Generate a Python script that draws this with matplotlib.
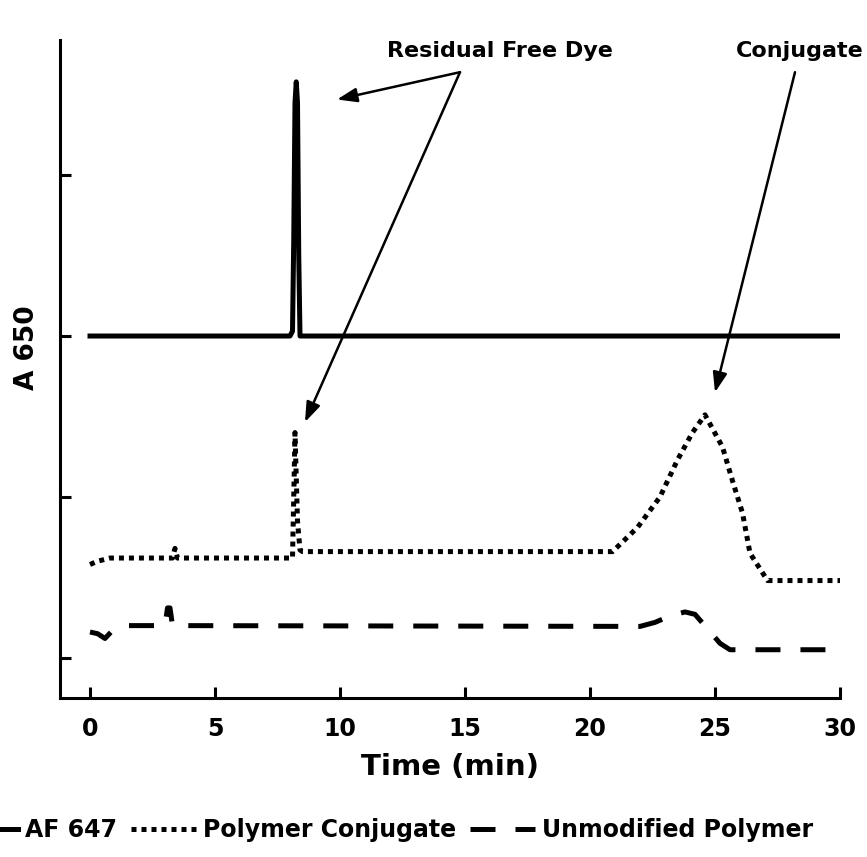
import matplotlib
matplotlib.use('Agg')
import matplotlib.pyplot as plt

# AF 647 (free dye) trace
af_t = [0, 8.0, 8.1, 8.15, 8.2, 8.25, 8.3, 8.35, 8.4, 30]
af_v = [2.0, 2.0, 2.03, 2.6, 3.45, 3.58, 3.45, 2.5, 2.0, 2.0]

# polymer conjugate trace
pc_t = [0, 0.3, 0.8, 1.2, 3.3, 3.4, 3.5, 8.1, 8.15, 8.2, 8.3, 8.4, 8.5, 20.9, 21.9, 22.8,
        23.5, 24.1, 24.6, 25.3, 25.7, 26.1, 26.4, 27.1, 30]
pc_v = [0.58, 0.60, 0.62, 0.62, 0.62, 0.68, 0.62, 0.62, 1.0, 1.40, 0.85, 0.67, 0.66, 0.66, 0.81, 1.0,
        1.23, 1.40, 1.51, 1.31, 1.10, 0.90, 0.65, 0.48, 0.48]

# unmodified polymer trace
up_t = [0, 0.3, 0.6, 0.9, 1.4, 3.0, 3.1, 3.2, 3.3, 22.0, 22.6, 23.2, 23.8, 24.2, 24.7, 25.2, 25.6, 30]
up_v = [0.16, 0.15, 0.12, 0.17, 0.20, 0.20, 0.31, 0.31, 0.20, 0.195, 0.22, 0.26, 0.285, 0.27, 0.18, 0.09, 0.05, 0.05]

x_ticks = [0, 5, 10, 15, 20, 25, 30]
y_ticks = [0, 1, 2, 3]

plt.rcParams['font.family'] = 'DejaVu Sans'
plt.rcParams['font.weight'] = 'bold'

fig = plt.figure(figsize=(8.67, 8.57), dpi=100)
ax = fig.add_axes([60 / 867, 1 - 698 / 857, 780 / 867, 658 / 857])

lw = 3.6
ax.plot(af_t, af_v, color='black', lw=lw, solid_joinstyle='round', label='AF 647')
ax.plot(pc_t, pc_v, color='black', lw=lw, linestyle=(0, (1, 1)), label='Polymer Conjugate')
ax.plot(up_t, up_v, color='black', lw=lw, linestyle=(0, (5, 4)), label='Unmodified Polymer')

ax.set_xlim(-1.2, 30)
ax.set_ylim(-0.25, 3.84)
ax.set_xticks(x_ticks)
ax.set_yticks(y_ticks)
ax.set_yticklabels([])
ax.tick_params(direction='in', length=8, width=2.2, labelsize=17)
ax.tick_params(axis='x', pad=14)
for s in ['top', 'right']:
    ax.spines[s].set_visible(False)
for s in ['left', 'bottom']:
    ax.spines[s].set_linewidth(2.2)

ax.set_xlabel('Time (min)', fontsize=21, fontweight='bold', labelpad=8)
ax.set_ylabel('A 650', fontsize=19, fontweight='bold')
ax.yaxis.set_label_coords(-0.025, 0.532)

# annotations
arr = dict(arrowstyle='-|>,head_length=1.0,head_width=0.36', color='black', lw=1.8,
           mutation_scale=12, shrinkA=0, shrinkB=0)
ax.text(16.4, 3.77, 'Residual Free Dye', ha='center', va='center', fontsize=16, fontweight='bold')
ax.annotate('', xy=(9.88, 3.47), xytext=(14.8, 3.64), arrowprops=arr)
ax.annotate('', xy=(8.6, 1.465), xytext=(14.8, 3.64), arrowprops=arr)
ax.text(28.4, 3.77, 'Conjugate', ha='center', va='center', fontsize=16, fontweight='bold')
ax.annotate('', xy=(25.0, 1.65), xytext=(28.2, 3.64), arrowprops=arr)

fig.legend(loc='center', bbox_to_anchor=(0.442, 1 - 830 / 857), ncol=3, frameon=False,
           handlelength=2.75, handletextpad=0.3, columnspacing=0.6,
           prop={'weight': 'bold', 'size': 17})

fig.savefig('out.png', dpi=100)
